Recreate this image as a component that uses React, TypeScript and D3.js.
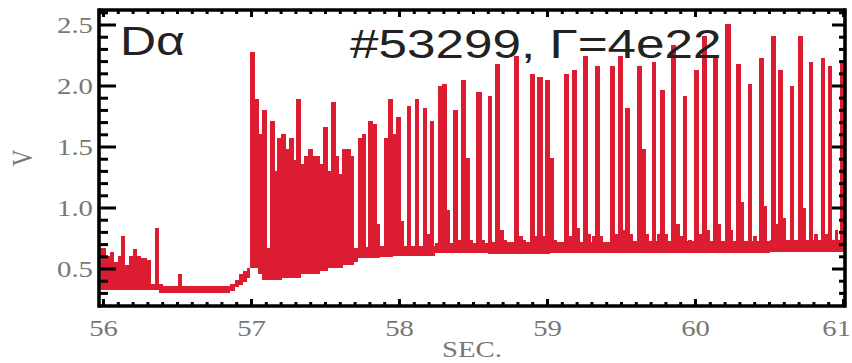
import React from "react";
import * as d3 from "d3";

const W = 852;
const H = 363;
const RED = "#dc1c30";

// Noisy baseline band (lower / upper envelope), step-after
const bandT = [55.97, 56.014, 56.041, 56.068, 56.095, 56.115, 56.142, 56.169, 56.196, 56.223, 56.25, 56.297, 56.324, 56.351, 56.378, 56.405, 56.506, 56.533, 56.858, 56.891, 56.918, 56.945, 56.972, 56.993, 57.047, 57.074, 57.202, 57.33, 57.458, 57.512, 57.614, 57.68, 57.72, 57.86, 57.95, 58.24, 58.6, 59.0, 59.5, 60.0, 60.5, 61.02];
const bandLo = [0.33, 0.33, 0.33, 0.33, 0.33, 0.33, 0.33, 0.33, 0.33, 0.33, 0.33, 0.33, 0.33, 0.33, 0.3, 0.3, 0.3, 0.3, 0.32, 0.35, 0.37, 0.39, 0.43, 0.51, 0.46, 0.41, 0.43, 0.46, 0.48, 0.51, 0.53, 0.56, 0.59, 0.6, 0.61, 0.63, 0.62, 0.63, 0.63, 0.63, 0.64, 0.64];
const bandHi = [0.67, 0.61, 0.64, 0.56, 0.61, 0.77, 0.53, 0.61, 0.66, 0.61, 0.59, 0.57, 0.38, 0.84, 0.38, 0.36, 0.46, 0.36, 0.38, 0.41, 0.46, 0.48, 0.51, 0.6, 0.6, 0.6, 0.6, 0.6, 0.6, 0.62, 0.64, 0.67, 0.68, 0.69, 0.69, 0.71, 0.72, 0.72, 0.73, 0.73, 0.74, 0.74];

// Spikes (ELM bursts): time and peak value
const spikeT = [56.993, 57.02, 57.047, 57.074, 57.101, 57.128, 57.155, 57.175, 57.202, 57.229, 57.256, 57.283, 57.303, 57.33, 57.357, 57.384, 57.411, 57.438, 57.458, 57.485, 57.512, 57.54, 57.566, 57.587, 57.614, 57.641, 57.668, 57.722, 57.749, 57.79, 57.817, 57.844, 57.897, 57.924, 57.951, 57.978, 58.005, 58.053, 58.107, 58.161, 58.181, 58.208, 58.262, 58.289, 58.316, 58.363, 58.39, 58.417, 58.444, 58.47, 58.519, 58.55, 58.6, 58.647, 58.674, 58.7, 58.775, 58.802, 58.83, 58.883, 58.91, 58.93, 58.96, 58.984, 59.011, 59.04, 59.113, 59.14, 59.167, 59.194, 59.241, 59.268, 59.3, 59.322, 59.35, 59.423, 59.45, 59.477, 59.504, 59.525, 59.55, 59.606, 59.633, 59.66, 59.707, 59.74, 59.761, 59.79, 59.835, 59.862, 59.89, 59.916, 59.95, 59.99, 60.02, 60.045, 60.07, 60.119, 60.146, 60.2, 60.23, 60.274, 60.301, 60.355, 60.39, 60.429, 60.456, 60.51, 60.537, 60.558, 60.585, 60.639, 60.693, 60.72, 60.767, 60.8, 60.848, 60.87, 60.895, 60.94, 60.976];
const spikeV = [2.28, 1.89, 1.61, 1.8, 0.67, 1.71, 1.3, 1.57, 1.61, 1.48, 1.57, 1.39, 1.89, 1.36, 1.43, 1.48, 1.43, 1.43, 1.36, 1.66, 1.3, 1.87, 1.43, 1.28, 1.48, 1.48, 1.43, 1.57, 1.61, 1.71, 1.69, 0.87, 1.57, 1.89, 1.61, 1.75, 0.89, 1.84, 1.89, 1.82, 0.79, 1.71, 2.0, 2.02, 0.98, 1.8, 0.74, 2.05, 1.41, 0.74, 1.95, 0.74, 1.92, 2.18, 0.82, 0.74, 2.25, 0.77, 0.74, 2.1, 0.77, 2.07, 0.77, 2.05, 1.41, 0.74, 2.1, 0.77, 2.13, 0.84, 2.25, 0.79, 0.77, 2.16, 0.77, 2.16, 0.79, 2.25, 0.82, 1.82, 0.79, 2.16, 1.48, 0.79, 2.2, 0.79, 1.97, 0.79, 2.34, 0.87, 0.77, 1.92, 0.74, 2.13, 0.79, 2.41, 0.82, 2.25, 0.87, 2.51, 0.82, 2.18, 1.05, 2.02, 0.77, 2.23, 1.02, 2.41, 0.87, 2.13, 0.92, 2.0, 2.41, 1.0, 2.2, 0.79, 2.23, 0.79, 2.16, 0.82, 2.2];

const xMajorTicks = [56, 57, 58, 59, 60, 61];
const yMajorTicks = [0.5, 1.0, 1.5, 2.0, 2.5];
const titleText = "#53299, Γ=4e22";
const labelText = "Dα";
const xTitle = "SEC.";
const yTitle = "V";

const SANS = "'Liberation Sans', Arial, Helvetica, sans-serif";
const SERIF = "'Liberation Serif', 'Times New Roman', serif";
const SX = 1.25;

export default function App() {
  const x = d3.scaleLinear().domain([56, 61]).range([103.5, 843.5]);
  const y = d3.scaleLinear().domain([0.5, 2.5]).range([269, 25]);

  const frameL = 99;
  const frameR = 845;
  const frameT = 10;
  const frameB = 306;

  const band = bandT.map((t, i) => ({ t, lo: bandLo[i], hi: bandHi[i] }));
  const area = d3
    .area<{ t: number; lo: number; hi: number }>()
    .x((d) => x(d.t))
    .y0((d) => y(d.lo))
    .y1((d) => y(d.hi))
    .curve(d3.curveStepAfter);
  const bis = d3.bisector((d: { t: number }) => d.t).right;
  const loAt = (t: number) => band[Math.max(0, bis(band, t) - 1)].lo;
  const spikeW = x(56.026) - x(56);

  const minorX = d3
    .range(560, 611)
    .map((v) => v / 10)
    .filter((v) => Math.abs(v - Math.round(v)) > 1e-6);
  const minorY = d3
    .range(3, 27)
    .map((v) => v / 10)
    .filter((v) => Math.abs(v * 2 - Math.round(v * 2)) > 1e-6);

  const tickFmt = d3.format(".1f");

  return (
    <svg
      width={W}
      height={H}
      viewBox={`0 0 ${W} ${H}`}
      style={{ position: "absolute", left: 0, top: 0, background: "#fff" }}
    >
      <defs>
        <clipPath id="plotclip">
          <rect x={frameL + 1.5} y={frameT + 1.5} width={frameR - frameL - 3} height={frameB - frameT - 3} />
        </clipPath>
      </defs>
      <rect x={0} y={0} width={W} height={H} fill="#fff" />

      <g clipPath="url(#plotclip)" shapeRendering="crispEdges">
        <path d={area(band) || ""} fill={RED} />
        {spikeT.map((t, i) => {
          const top = y(spikeV[i]);
          const bot = y(loAt(t));
          const x0 = x(t);
          let w = spikeW;
          if (i < spikeT.length - 1) {
            const gap = x(spikeT[i + 1]) - x0;
            if (gap < x(56.032) - x(56)) w = gap + 1;
          }
          return (
            <rect key={i} x={x0} y={top} width={w} height={Math.max(0, bot - top)} fill={RED} />
          );
        })}
      </g>

      {/* frame */}
      <g stroke="#000" strokeWidth={3.6} fill="none">
        <line x1={frameL} x2={frameR} y1={frameT} y2={frameT} />
        <line x1={frameL} x2={frameR} y1={frameB} y2={frameB} />
        <line x1={frameL} x2={frameL} y1={frameT - 1.8} y2={frameB + 1.8} />
        <line x1={frameR} x2={frameR} y1={frameT - 1.8} y2={frameB + 1.8} />
      </g>

      {/* ticks */}
      <g stroke="#000" strokeWidth={3}>
        {xMajorTicks.map((v) => (
          <g key={"xm" + v}>
            <line x1={x(v)} x2={x(v)} y1={frameB} y2={frameB - 7} />
            <line x1={x(v)} x2={x(v)} y1={frameT} y2={frameT + 7} />
          </g>
        ))}
        {minorX.map((v) => (
          <g key={"xn" + v}>
            <line x1={x(v)} x2={x(v)} y1={frameB} y2={frameB - 4} />
            <line x1={x(v)} x2={x(v)} y1={frameT} y2={frameT + 4} />
          </g>
        ))}
        {yMajorTicks.map((v) => (
          <g key={"ym" + v}>
            <line x1={frameL} x2={frameL + 17} y1={y(v)} y2={y(v)} />
            <line x1={frameR} x2={frameR - 13} y1={y(v)} y2={y(v)} />
          </g>
        ))}
        {minorY.map((v) => (
          <g key={"yn" + v}>
            <line x1={frameL} x2={frameL + 9} y1={y(v)} y2={y(v)} />
            <line x1={frameR} x2={frameR - 6} y1={y(v)} y2={y(v)} />
          </g>
        ))}
      </g>

      {/* tick labels */}
      <g fill="#777" fontFamily={SERIF} fontSize={23}>
        {yMajorTicks.map((v) => (
          <text key={"yl" + v} transform={`translate(93,${y(v) + 8}) scale(${SX},1)`} textAnchor="end">
            {tickFmt(v)}
          </text>
        ))}
        {xMajorTicks.map((v, i) => (
          <text
            key={"xl" + v}
            transform={`translate(${i === xMajorTicks.length - 1 ? 851 : x(v)},336) scale(${SX},1)`}
            textAnchor={i === xMajorTicks.length - 1 ? "end" : "middle"}
          >
            {String(v)}
          </text>
        ))}
        <text transform={`translate(${(frameL + frameR) / 2},357) scale(${SX},1)`} textAnchor="middle">
          {xTitle}
        </text>
        <text transform={`translate(32,158) scale(${SX},1) rotate(-90)`} textAnchor="middle">
          {yTitle}
        </text>
      </g>

      {/* annotations */}
      <g fill="#222" fontFamily={SANS}>
        <text transform={`translate(120,55) scale(${SX},1)`} fontSize={40}>
          {labelText}
        </text>
        <text transform={`translate(350,58) scale(${SX},1)`} fontSize={41}>
          {titleText}
        </text>
      </g>
    </svg>
  );
}
